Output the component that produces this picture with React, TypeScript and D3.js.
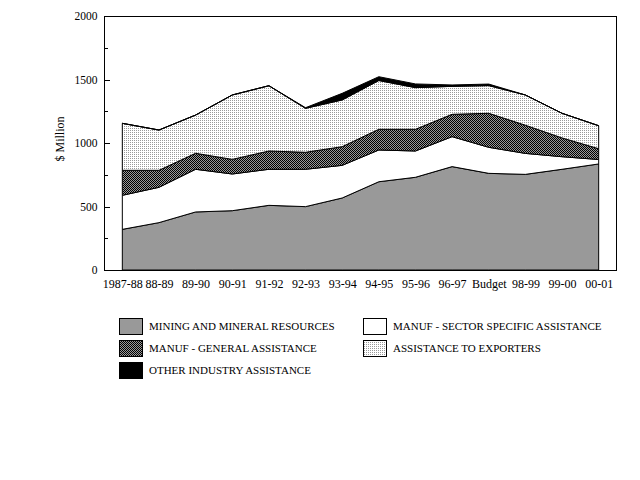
import { useEffect, useRef } from 'react';
import * as d3 from 'd3';

const categories = ['1987-88', '88-89', '89-90', '90-91', '91-92', '92-93', '93-94', '94-95', '95-96', '96-97', 'Budget', '98-99', '99-00', '00-01'];

const mining = [320, 373, 457, 467, 509, 499, 567, 695, 730, 814, 761, 753, 793, 835];
const sectorSpecific = [268, 278, 336, 289, 284, 294, 257, 250, 207, 236, 205, 165, 99, 35];
const general = [197, 134, 126, 115, 144, 134, 147, 163, 171, 176, 268, 222, 148, 85];
const exporters = [370, 317, 301, 507, 514, 346, 368, 384, 328, 220, 218, 238, 194, 181];
const other = [0, 0, 0, 0, 0, 5, 52, 30, 29, 11, 12, 0, 0, 0];

const seriesNames = [
  'MINING AND MINERAL RESOURCES',
  'MANUF - SECTOR SPECIFIC ASSISTANCE',
  'MANUF - GENERAL ASSISTANCE',
  'ASSISTANCE TO EXPORTERS',
  'OTHER INDUSTRY ASSISTANCE',
];
const yTicks = [0, 500, 1000, 1500, 2000];
const yMinorTicks = [250, 750, 1250, 1750];

const keys = ['mining', 'sector', 'general', 'exporters', 'other'];
const fills = ['#999999', '#ffffff', 'url(#checker)', 'url(#dots)', '#000000'];

const FONT = '"Liberation Serif", "Times New Roman", serif';

const App = () => {
  const svgRef = useRef<SVGSVGElement>(null);

  useEffect(() => {
    if (!svgRef.current) return;
    const svg = d3.select(svgRef.current);
    svg.selectAll('*').remove();

    const margin = { top: 16, left: 104, right: 617, bottom: 270 };

    // patterns
    const defs = svg.append('defs');
    const checker = defs.append('pattern')
      .attr('id', 'checker')
      .attr('patternUnits', 'userSpaceOnUse')
      .attr('width', 2)
      .attr('height', 2);
    checker.append('rect').attr('width', 2).attr('height', 2).attr('fill', '#999999');
    checker.append('rect').attr('x', 0).attr('y', 0).attr('width', 1).attr('height', 1).attr('fill', '#000');
    checker.append('rect').attr('x', 1).attr('y', 1).attr('width', 1).attr('height', 1).attr('fill', '#000');

    const dots = defs.append('pattern')
      .attr('id', 'dots')
      .attr('patternUnits', 'userSpaceOnUse')
      .attr('width', 2)
      .attr('height', 2);
    dots.append('rect').attr('width', 2).attr('height', 2).attr('fill', '#fff');
    dots.append('rect').attr('x', 0).attr('y', 0).attr('width', 1).attr('height', 1).attr('fill', '#999999');

    const rows = categories.map((c, i) => ({
      cat: c,
      mining: mining[i],
      sector: sectorSpecific[i],
      general: general[i],
      exporters: exporters[i],
      other: other[i],
    }));

    const x = d3.scaleBand()
      .domain(categories)
      .range([margin.left, margin.right]);
    const xc = (c: string) => (x(c) || 0) + x.bandwidth() / 2;

    const y = d3.scaleLinear()
      .domain([0, 2000])
      .range([margin.bottom, margin.top]);

    const stacked = d3.stack<any>().keys(keys)(rows);

    const area = d3.area<any>()
      .x(d => xc(d.data.cat))
      .y0(d => y(d[0]))
      .y1(d => y(d[1]));

    svg.append('g')
      .selectAll('path')
      .data(stacked)
      .join('path')
      .attr('d', d => area(d) || '')
      .attr('fill', (_, i) => fills[i])
      .attr('stroke', '#000')
      .attr('stroke-width', 1)
      .attr('stroke-linejoin', 'round');

    // plot frame
    svg.append('rect')
      .attr('x', margin.left + 0.5)
      .attr('y', margin.top + 0.5)
      .attr('width', margin.right - margin.left - 1)
      .attr('height', margin.bottom - margin.top)
      .attr('fill', 'none')
      .attr('stroke', '#000')
      .attr('stroke-width', 1)
      .attr('shape-rendering', 'crispEdges');

    // Y axis, ticks pointing inward
    svg.append('g')
      .attr('transform', `translate(${margin.left + 0.5},0)`)
      .call(d3.axisLeft(y).tickValues(yTicks).tickSize(-5).tickPadding(7).tickFormat(d => `${d}`))
      .call(g => g.select('.domain').remove())
      .call(g => g.selectAll('.tick line').attr('stroke', '#000').attr('shape-rendering', 'crispEdges'))
      .call(g => g.selectAll('.tick text')
        .style('font-family', FONT)
        .style('font-size', '11.5px')
        .style('fill', '#000'));

    // minor ticks
    svg.append('g')
      .attr('transform', `translate(${margin.left + 0.5},0)`)
      .call(d3.axisLeft(y).tickValues(yMinorTicks).tickSize(-3).tickFormat(() => ''))
      .call(g => g.select('.domain').remove())
      .call(g => g.selectAll('.tick line').attr('stroke', '#000').attr('shape-rendering', 'crispEdges'));

    // X axis labels
    svg.append('g')
      .attr('transform', `translate(0,${margin.bottom})`)
      .call(d3.axisBottom(d3.scalePoint().domain(categories).range([xc(categories[0]), xc(categories[categories.length - 1])])).tickSize(0).tickPadding(9))
      .call(g => g.select('.domain').remove())
      .call(g => g.selectAll('.tick text')
        .style('font-family', FONT)
        .style('font-size', '12px')
        .style('fill', '#000'));

    // Y label
    svg.append('text')
      .attr('transform', `translate(64,${139}) rotate(-90)`)
      .attr('text-anchor', 'middle')
      .style('font-family', FONT)
      .style('font-size', '12px')
      .text('$ Million');

    // legend
    const legendPos = [
      { x: 119, y: 318 },
      { x: 363, y: 318 },
      { x: 119, y: 340 },
      { x: 363, y: 340 },
      { x: 119, y: 362 },
    ];
    const legend = svg.append('g');
    seriesNames.forEach((name, i) => {
      const p = legendPos[i];
      legend.append('rect')
        .attr('x', p.x + 0.5)
        .attr('y', p.y + 0.5)
        .attr('width', 23)
        .attr('height', 16)
        .attr('fill', fills[i])
        .attr('stroke', '#000')
        .attr('shape-rendering', 'crispEdges');
      legend.append('text')
        .attr('x', p.x + 30)
        .attr('y', p.y + 12)
        .style('font-family', FONT)
        .style('font-size', '11px')
        .text(name);
    });
  }, []);

  return (
    <div style={{ position: 'absolute', left: 0, top: 0, width: 640, height: 480, background: '#fff' }}>
      <svg ref={svgRef} width={640} height={480} />
    </div>
  );
};

export default App;
